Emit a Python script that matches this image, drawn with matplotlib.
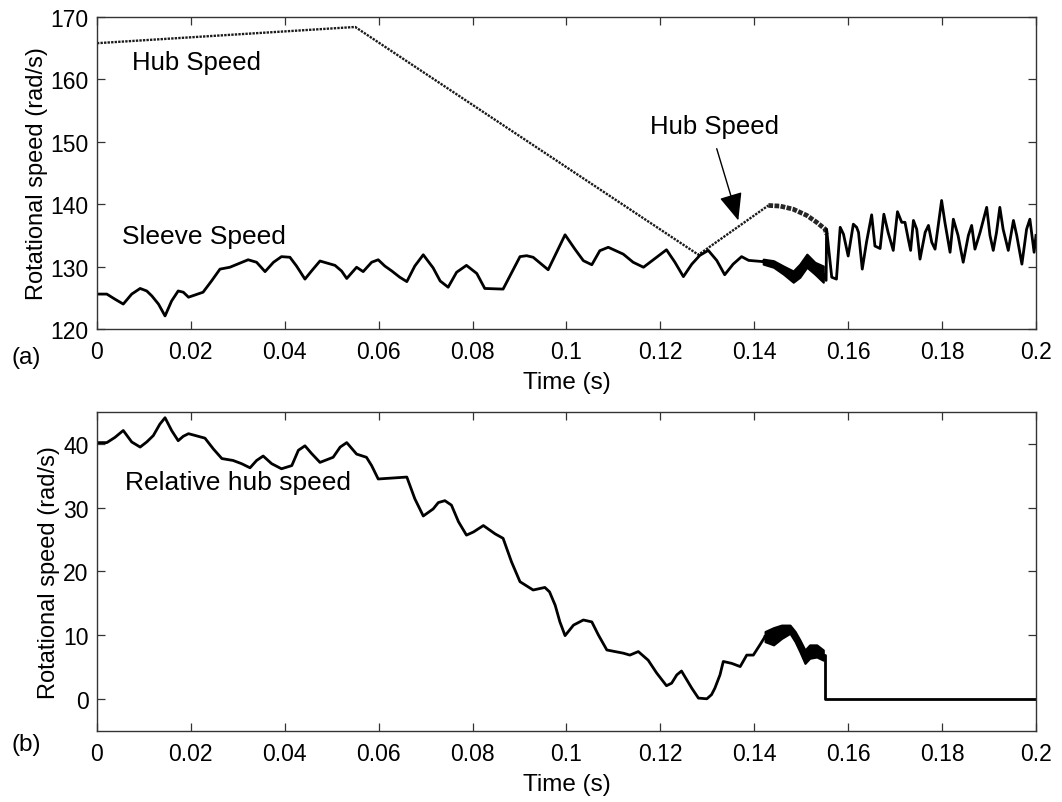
import numpy as np
import matplotlib
matplotlib.use('Agg')
import matplotlib.pyplot as plt

plt.rcParams['font.family'] = ['Liberation Sans', 'DejaVu Sans']

## (a) sleeve speed [rad/s]
t_sleeve = [0, 0.0021, 0.0038, 0.0056, 0.0074, 0.0092, 0.0106, 0.0117, 0.0131, 0.0145,
            0.0159, 0.0173, 0.0184, 0.0195, 0.0226, 0.0244, 0.0262, 0.0283, 0.0322, 0.0340,
            0.0358, 0.0376, 0.0393, 0.0411, 0.0425, 0.0443, 0.0457, 0.0475, 0.0507, 0.0521,
            0.0532, 0.0553, 0.0567, 0.0585, 0.0599, 0.0613, 0.0628, 0.0645, 0.066, 0.0677,
            0.0695, 0.0716, 0.0731, 0.0748, 0.0766, 0.0787, 0.0809, 0.0826, 0.0865, 0.0901,
            0.0915, 0.0929, 0.0961, 0.0979, 0.0997, 0.1018, 0.1036, 0.1054, 0.1071, 0.1089,
            0.1121, 0.1142, 0.1164, 0.1192, 0.1213, 0.1231, 0.1249, 0.1267, 0.1284, 0.1302,
            0.1320, 0.1337, 0.1355, 0.1373, 0.1388, 0.1419]
v_sleeve = [125.6, 125.6, 124.8, 124.0, 125.6, 126.5, 126.1, 125.3, 124.0, 122.1,
            124.5, 126.1, 125.9, 125.1, 125.9, 127.7, 129.6, 129.9, 131.1, 130.7,
            129.2, 130.7, 131.6, 131.5, 130.1, 128.0, 129.3, 130.9, 130.2, 129.3,
            128.1, 129.9, 129.2, 130.7, 131.1, 130.1, 129.3, 128.3, 127.6, 130.1,
            131.9, 129.8, 127.7, 126.7, 129.1, 130.2, 128.9, 126.5, 126.4, 131.6,
            131.75, 131.5, 129.5, 132.3, 135.1, 132.8, 130.95, 130.3, 132.55, 133.1,
            132.0, 130.7, 129.9, 131.5, 132.7, 130.7, 128.4, 130.4, 131.8, 132.6,
            131.0, 128.7, 130.4, 131.6, 131.0, 130.8]

# chattering band before engagement (upper / lower envelope)
t_band = [0.1419, 0.1441, 0.1462, 0.1483, 0.1497, 0.1512, 0.1529, 0.1547]
band_hi = [131.2, 130.95, 130.1, 129.3, 130.4, 132.0, 130.7, 130.1]
band_lo = [130.4, 129.9, 128.8, 127.5, 128.3, 129.9, 128.8, 127.5]

# after engagement
t_post = [0.1547, 0.1553, 0.1554, 0.1565, 0.1575, 0.1583, 0.1590, 0.1600, 0.1611, 0.1618,
          0.1622, 0.1630, 0.1639, 0.1650, 0.1657, 0.1668, 0.1676, 0.1685, 0.1696, 0.1705,
          0.1714, 0.1721, 0.1728, 0.1733, 0.1739, 0.1746, 0.1753, 0.1764, 0.1771, 0.1778,
          0.1785, 0.1799, 0.1806, 0.1817, 0.1824, 0.1834, 0.1845, 0.1856, 0.1863, 0.1870,
          0.1881, 0.1895, 0.1902, 0.1909, 0.1916, 0.1923, 0.1930, 0.1941, 0.1952, 0.1959,
          0.1970, 0.1980, 0.1987, 0.1996, 0.2]
v_post = [128.8, 127.8, 136.0, 128.3, 128.0, 136.3, 135.2, 131.7, 136.8, 136.3,
          135.5, 129.6, 133.9, 138.3, 133.3, 132.9, 138.4, 135.5, 132.6, 138.8,
          137.1, 137.1, 134.4, 132.6, 137.4, 136.0, 131.2, 135.5, 136.6, 133.9,
          132.8, 140.6, 137.1, 132.3, 137.6, 135.0, 130.7, 135.0, 136.6, 132.8,
          135.5, 139.5, 135.0, 132.6, 135.5, 139.5, 136.0, 132.6, 137.4, 135.0,
          130.4, 136.0, 137.6, 132.3, 135.0]

## (a) hub speed [rad/s]
t_hub = [0, 0.055, 0.1281, 0.143]
v_hub = [165.8, 168.4, 131.9, 139.8]
t_hub2 = [0.143, 0.1455, 0.1483, 0.1512, 0.1533, 0.1551, 0.1554]
v_hub2 = [139.8, 139.7, 139.2, 138.2, 137.1, 136.0, 135.2]

## (b) relative hub speed [rad/s]
t_rel = [0, 0.0021, 0.0038, 0.0056, 0.0074, 0.0092, 0.0106, 0.012, 0.0134, 0.0145,
         0.0159, 0.0173, 0.0184, 0.0195, 0.023, 0.0248, 0.0266, 0.029, 0.0308, 0.0326,
         0.0340, 0.0354, 0.0372, 0.0393, 0.0415, 0.0429, 0.0443, 0.0457, 0.0475, 0.0503,
         0.0518, 0.0532, 0.0553, 0.0574, 0.0585, 0.0599, 0.066, 0.0677, 0.0695, 0.0716,
         0.0727, 0.0741, 0.0755, 0.0770, 0.0787, 0.0802, 0.0823, 0.0848, 0.0865, 0.0883,
         0.0901, 0.0929, 0.0954, 0.0964, 0.0976, 0.0986, 0.0997, 0.1015, 0.1036, 0.1054,
         0.1068, 0.1086, 0.1121, 0.1135, 0.1153, 0.1174, 0.1192, 0.1213, 0.1224, 0.1235,
         0.1245, 0.1267, 0.1281, 0.1299, 0.1309, 0.1316, 0.1327, 0.1334, 0.1352, 0.1370,
         0.1384, 0.1398, 0.1412, 0.1423]
v_rel = [40.2, 40.2, 41.0, 42.1, 40.3, 39.5, 40.3, 41.3, 43.1, 44.1,
         42.1, 40.5, 41.2, 41.6, 40.9, 39.2, 37.7, 37.4, 36.9, 36.25,
         37.4, 38.1, 36.9, 36.1, 36.6, 39.0, 39.7, 38.5, 37.1, 37.9,
         39.5, 40.2, 38.4, 37.9, 36.6, 34.5, 34.8, 31.4, 28.7, 29.8,
         30.8, 31.1, 30.4, 27.8, 25.7, 26.2, 27.2, 25.9, 25.2, 21.5,
         18.4, 17.1, 17.5, 16.8, 14.7, 12.1, 9.95, 11.6, 12.4, 12.1,
         10.05, 7.7, 7.2, 6.9, 7.45, 6.1, 4.1, 2.1, 2.5, 3.8,
         4.4, 1.7, 0.16, 0.05, 0.7, 1.7, 3.8, 5.9, 5.6, 5.1,
         6.9, 6.9, 8.5, 9.8]
t_band2 = [0.1423, 0.1441, 0.1458, 0.1476, 0.1487, 0.1497, 0.1508, 0.1518, 0.1533, 0.1547]
rel_hi = [10.6, 11.2, 11.6, 11.6, 10.6, 9.3, 7.7, 8.5, 8.5, 7.7]
rel_lo = [9.0, 8.5, 9.5, 10.3, 9.0, 7.45, 5.6, 6.4, 6.6, 6.1]
t_lock = [0.1547, 0.1551, 0.1551, 0.2]
v_lock = [6.9, 6.9, 0, 0]

LW = 2.0
frame = '0.2'


def style(ax):
    ax.set_xlim(0, 0.2)
    ax.set_xticks(np.arange(0, 0.2001, 0.02))
    ax.set_xticklabels(['0', '0.02', '0.04', '0.06', '0.08', '0.1', '0.12',
                        '0.14', '0.16', '0.18', '0.2'])
    ax.tick_params(direction='in', top=True, right=True, length=6, width=0.9,
                   color=frame, labelsize=16.5)
    ax.tick_params(axis='x', pad=8)
    ax.tick_params(axis='y', pad=6)
    for s in ax.spines.values():
        s.set_color(frame)
        s.set_linewidth(1.0)
    ax.set_xlabel('Time (s)', fontsize=17.5, labelpad=6)
    ax.set_ylabel('Rotational speed (rad/s)', fontsize=17, labelpad=2)


fig = plt.figure(figsize=(10.62, 8.03), dpi=100)
ax1 = fig.add_axes([0.0913, 0.589, 0.8842, 0.3886])
ax2 = fig.add_axes([0.0913, 0.0884, 0.8842, 0.3973])

# top panel
ax1.plot(t_hub, v_hub, color='0.1', lw=1.7, ls=(0, (1, 0.5)))
ax1.plot(t_hub2, v_hub2, color='0.15', lw=3.4, ls=(0, (1, 0.3)))
ax1.plot(t_sleeve, v_sleeve, color='k', lw=LW, solid_joinstyle='round')
mid = [(a + b) / 2 for a, b in zip(band_hi, band_lo)]
ax1.plot([t_sleeve[-1]] + t_band, [v_sleeve[-1]] + mid, color='k', lw=LW)
ax1.fill_between(t_band, band_lo, band_hi, color='k', lw=1.5, edgecolor='k')
ax1.plot(t_post, v_post, color='k', lw=LW, solid_joinstyle='round')
ax1.set_ylim(120, 170)
ax1.set_yticks(range(120, 171, 10))
ax1.text(0.0075, 162.8, 'Hub Speed', fontsize=18.5, va='center')
ax1.text(0.0053, 134.9, 'Sleeve Speed', fontsize=19, va='center')
ax1.text(0.1316, 152.6, 'Hub Speed', fontsize=18.5, va='center', ha='center')
ax1.annotate('', xy=(0.1366, 137.4), xytext=(0.1320, 148.9),
             arrowprops=dict(arrowstyle='-|>,head_length=0.85,head_width=0.36',
                             mutation_scale=20, color='k', lw=1.0,
                             shrinkA=0, shrinkB=0))
style(ax1)

# bottom panel
ax2.plot(t_rel, v_rel, color='k', lw=LW, solid_joinstyle='round')
mid2 = [(a + b) / 2 for a, b in zip(rel_hi, rel_lo)]
ax2.plot([t_rel[-1]] + t_band2, [v_rel[-1]] + mid2, color='k', lw=LW)
ax2.fill_between(t_band2, rel_lo, rel_hi, color='k', lw=1.5, edgecolor='k')
ax2.plot(t_lock, v_lock, color='k', lw=LW)
ax2.set_ylim(-5, 45)
ax2.set_yticks(range(0, 41, 10))
ax2.text(0.006, 34.1, 'Relative hub speed', fontsize=19, va='center')
style(ax2)

fig.text(0.011, 1 - 358 / 803, '(a)', fontsize=17.5, va='center')
fig.text(0.011, 1 - 745 / 803, '(b)', fontsize=17.5, va='center')

fig.savefig('out.png', dpi=100)
